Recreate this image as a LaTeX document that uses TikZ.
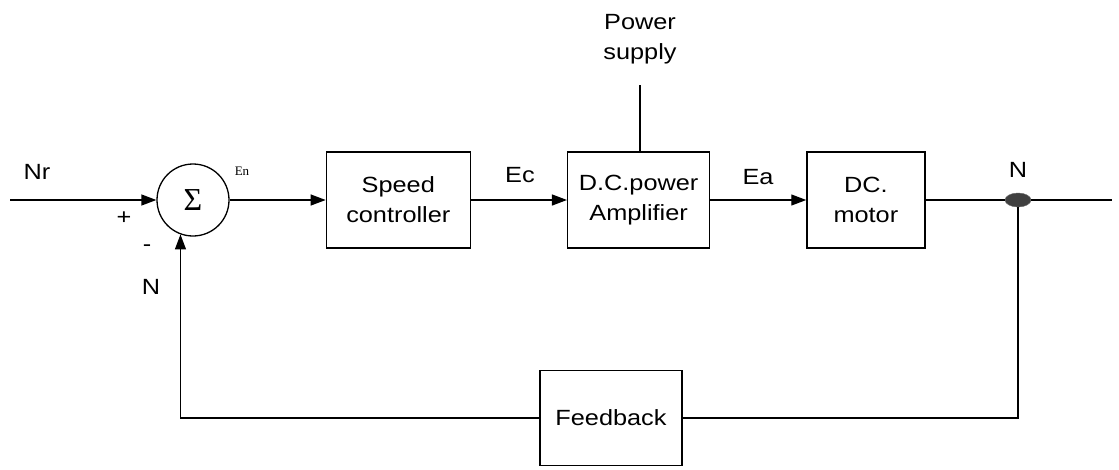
\documentclass[tikz,border=0pt]{standalone}
\usepackage{fontspec}
\setmainfont{Liberation Sans}[FakeStretch=1.15]
\newfontfamily\smallserif{Liberation Serif}
\usepackage{tikz}
\usetikzlibrary{shapes.geometric, arrows.meta, positioning}

\begin{document}
\begin{tikzpicture}[
    x=1pt, y=-1pt,
    node distance=96pt,
    every node/.style={font=\fontsize{22}{30}\selectfont},
    block/.style={rectangle, draw, line width=1.3pt, align=center,
                  minimum height=96pt, inner sep=4pt},
    arrow/.style={-{Triangle[length=15pt, width=11pt]}, line width=1.3pt},
    line/.style={line width=1.3pt},
    label_s/.style={inner sep=0pt},
]
\useasboundingbox (0,0) rectangle (1119,469);

% Row 1: summing point and forward path
\node[circle, draw, line width=1.3pt, minimum size=72pt, inner sep=0pt] (sum) at (193,200) {\smallserif\fontsize{32}{32}\selectfont Σ};
\node[block, minimum width=144pt, right=96pt of sum] (ctrl) {Speed\\controller};
\node[block, minimum width=142pt, right=96pt of ctrl] (amp) {D.C.power\\Amplifier};
\node[block, minimum width=118pt, right=96pt of amp] (motor) {DC.\\motor};

% Output take-off point
\node[ellipse, fill=black!75, draw=black!60, minimum width=26pt, minimum height=14pt, inner sep=0pt] (tap) at (1018,200) {};
\coordinate (in) at (10,200);
\coordinate (out) at (1112,200);

% Power supply
\node[align=center] (psup) at (640,39) {Power\\supply};

% Row 2: feedback
\node[block, minimum width=142pt, minimum height=95pt] (fb) at (611,418) {Feedback};

% Labels
\node[label_s] at (37,172) {Nr};
\node[label_s] at (124,218) {+};
\node[label_s] at (147,248) {-};
\node[label_s] at (151,287) {N};
\node[label_s, font=\smallserif\fontsize{13}{13}\selectfont] at (242,171) {En};
\node[label_s] at (520,175) {Ec};
\node[label_s] at (758,177) {Ea};
\node[label_s] at (1018,170) {N};

% Arrows
\draw[arrow] (in) -- (sum);
\draw[arrow] (sum) -- (ctrl);
\draw[arrow] (ctrl) -- (amp);
\draw[arrow] (amp) -- (motor);
\draw[line] (motor) -- (tap);
\draw[line] (tap) -- (out);
\draw[line] (amp.north -| psup) -- (psup.south) [shorten >=18pt];
\draw[line] (tap) -- (tap |- fb) -- (fb.east);
\draw[arrow] (fb.west) -- (fb.west -| sum.-110) -- (sum.-110);

\end{tikzpicture}
\end{document}
